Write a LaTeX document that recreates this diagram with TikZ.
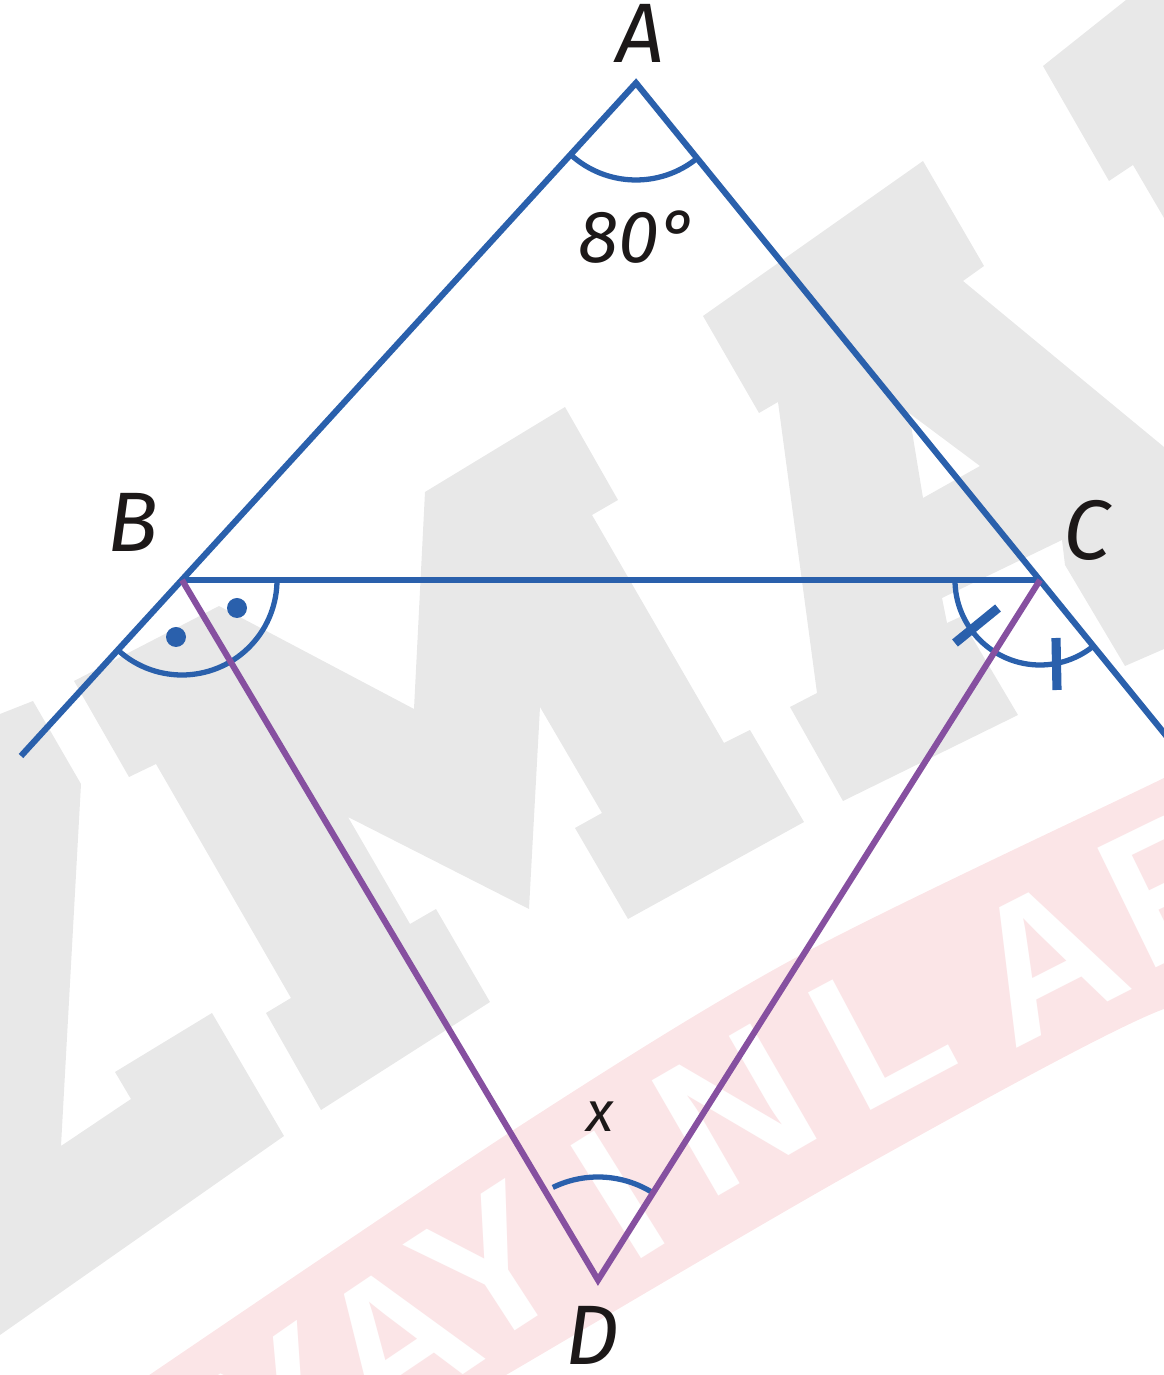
\documentclass[tikz,border=0pt]{standalone}
\usepackage{fontspec}
\setmainfont{Fira Sans}
\newfontfamily\wmfont{Liberation Sans}
\usetikzlibrary{calc}
\definecolor{lblue}{RGB}{42,96,172}
\definecolor{lpurple}{RGB}{134,80,160}
\definecolor{wmgray}{RGB}{232,232,232}
\definecolor{wmpink}{RGB}{251,229,231}
\definecolor{ink}{RGB}{28,24,24}
\tikzset{
  blueline/.style={draw=lblue,line width=1.75pt,line join=miter},
  purpleline/.style={draw=lpurple,line width=1.75pt,line join=miter},
  anglearc/.style={draw=lblue,line width=1.5pt},
  tickmark/.style={draw=lblue,line width=2.6pt},
  lbl/.style={text=ink,font=\fontsize{24}{28}\selectfont\itshape,inner sep=0pt},
  midlbl/.style={text=ink,font=\fontsize{21}{24}\selectfont\itshape,inner sep=0pt},
  smalllbl/.style={text=ink,font=\fontsize{16}{18}\selectfont\itshape,inner sep=0pt},
  wmletter/.style={text=white,font=\wmfont\bfseries\fontsize{55}{57}\selectfont,inner sep=0pt}
}
\begin{document}
\begin{tikzpicture}[x=0.01cm,y=0.01cm]
\useasboundingbox (0,0) rectangle (1164,1375);
\clip (0,0) rectangle (1164,1375);
% watermark: gray letters
\fill[wmgray] (0,661) -- (33,674) -- (81,591) -- (61,229) -- (131,276) -- (115,303) -- (212,362) -- (284,239) -- (0,40) -- cycle;
\fill[wmgray] (74,694) -- (219,769) -- (414,666) -- (425,883) -- (565,968) -- (618,875) -- (592,860) -- (724,632) -- (750,645) -- (804,553) -- (628,456) -- (575,547) -- (602,562) -- (540,668) -- (529,466) -- (348,558) -- (410,451) -- (436,466) -- (490,373) -- (321,265) -- (266,362) -- (291,377) -- (156,611) -- (129,598) -- cycle;
\fill[wmgray,even odd rule] (703,1059) -- (923,1214) -- (984,1109) -- (963,1094) -- (1164,928) -- (1164,726) -- (1125,709) -- (1065,810) -- (1062,835) -- (942,777) -- (947,752) -- (960,758) -- (1018,660) -- (843,574) -- (790,668) -- (817,682) -- (778,973) -- (759,962) -- cycle
  (909,962) -- (980,909) -- (923,877) -- cycle;
\fill[wmgray] (1043,1309) -- (1126,1375) -- (1164,1375) -- (1164,1157) -- (1133,1210) -- (1109,1194) -- cycle;
% watermark: pink band with white letters
\fill[wmpink] plot[smooth] coordinates {(120,-20) (512,244) (797,418) (1164,597) (1220,625)}
  -- plot[smooth] coordinates {(1220,336) (1164,366) (861,207) (506,0) (470,-20)} -- cycle;
\foreach \ch/\px/\py/\ang [count=\i] in {Y/285/-35/35, A/395/35/34, Y/490/107/33, I/618/180/32, N/735/265/30, L/880/345/28, A/1045/415/27, R/1178/492/26}
  \node[wmletter,rotate=\ang] (wm\i) at (\px,\py) {\ch};
% points
\coordinate (A) at (636,1292);
\coordinate (B) at (182,795);
\coordinate (C) at (1040,795);
\coordinate (D) at (598,95);
\coordinate (E) at (21,619);
\coordinate (F) at (1181,621);
% angle arcs
\draw[anglearc] ($(A)+(227.6:97)$) arc[start angle=227.6,end angle=309.1,radius=97];
\draw[anglearc] ($(B)+(-132.4:95)$) arc[start angle=-132.4,end angle=0,radius=95];
\draw[anglearc] ($(C)+(180:85)$) arc[start angle=180,end angle=307.8,radius=85];
\draw[anglearc] ($(D)+(58:103)$) arc[start angle=58,end angle=116,radius=103];
\fill[lblue] (237,767) circle[radius=10];
\fill[lblue] (176,738) circle[radius=10];
\coordinate (t1a) at (955,732);
\coordinate (t1b) at (998,767);
\coordinate (t2a) at (1056,737);
\coordinate (t2b) at (1057,685);
\draw[tickmark] (t1a) -- (t1b);
\draw[tickmark] (t2a) -- (t2b);
% sides
\draw[blueline] (E) -- (A) -- (F);
\draw[blueline] (B) -- (C);
\draw[purpleline] (B) -- (D) -- (C);
% labels
\node[lbl] (lA) at (640,1342) {A};
\node[midlbl] (l80) at (638,1138) {80°};
\node[lbl] (lB) at (133,853) {B};
\node[lbl] (lC) at (1087,845) {C};
\node[lbl] (lD) at (592,40) {D};
\node[smalllbl] (lx) at (600,258) {x};
\end{tikzpicture}
\end{document}
